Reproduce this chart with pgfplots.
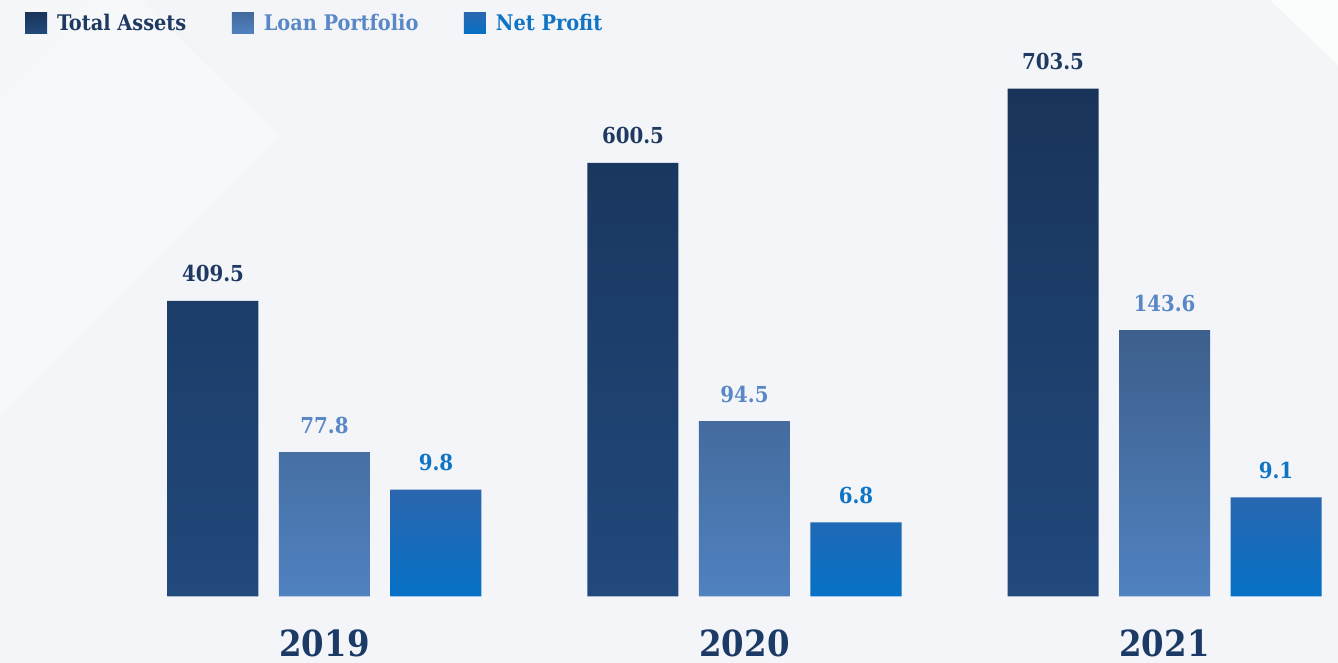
\documentclass[border=0pt]{standalone}
\usepackage{fontspec}
\setmainfont{DejaVu Serif Condensed}
\usepackage{pgfplots}
\pgfplotsset{compat=1.18}
\definecolor{bgcol}{HTML}{F3F5F8}
\definecolor{bglight}{HTML}{F7F8FA}
\definecolor{tatop}{HTML}{19345A}
\definecolor{tabot}{HTML}{21497C}
\definecolor{lptop}{HTML}{3D5F8C}
\definecolor{lpbot}{HTML}{5082C0}
\definecolor{nptop}{HTML}{2B66AE}
\definecolor{npbot}{HTML}{0571C6}
\definecolor{talab}{HTML}{1E3A62}
\definecolor{lplab}{HTML}{5A88C6}
\definecolor{nplab}{HTML}{0F74C4}
\definecolor{yearcol}{HTML}{1B3A66}
\pgfplotsset{
  basebar/.style={
    scale only axis, width=1338pt, height=596.5pt,
    at={(0pt,66.5pt)}, anchor=south west,
    xmin=-0.7726, xmax=2.4131, ymin=0,
    axis line style={draw=none}, tick style={draw=none},
    ytick=\empty, xtick=\empty, clip=false,
    bar width=91pt,
    nodes near coords,
    nodes near coords style={anchor=base, yshift=19pt, font=\fontsize{22}{26}\selectfont\bfseries},
    /pgf/number format/.cd, fixed, fixed zerofill, precision=1, assume math mode=true,
  },
}
\begin{document}
\begin{tikzpicture}
\useasboundingbox (0,0) rectangle (1338pt,663pt);
\fill[bgcol] (0,0) rectangle (1338pt,663pt);
\fill[bglight] (0pt,663pt) -- (140pt,663pt) -- (280pt,526pt) -- (0pt,246pt) -- cycle;
\fill[bgcol!40!bglight] (0pt,663pt) -- (100pt,663pt) -- (0pt,560pt) -- cycle;
\fill[white, opacity=0.7] (1270pt,663pt) -- (1338pt,663pt) -- (1338pt,598pt) -- cycle;
% Total Assets
\begin{axis}[basebar, ymax=826.2,
  xtick={0,1,2}, xticklabels={2019,2020,2021},
  xticklabel style={anchor=base, yshift=-60pt, text=yearcol, font=\fontsize{36}{40}\selectfont\bfseries},
  legend style={draw=none, fill=none, inner sep=0pt, outer sep=0pt,
    at={(axis description cs:0,1)}, anchor=north west, xshift=25pt, yshift=-12pt,
    legend columns=-1, font=\fontsize{21.5}{26}\selectfont\bfseries,
    /tikz/every odd column/.append style={column sep=8pt},
    /tikz/every even column/.append style={column sep=43.5pt}},
  legend image code/.code={\path[#1] (0pt,-10.5pt) rectangle (22pt,10.5pt);},
  legend cell align=left,
]
\addplot[ybar, bar shift=-111.5pt, draw=none, top color=tatop, bottom color=tabot,
  nodes near coords style={text=talab, xshift=-111.5pt}, forget plot]
  coordinates {(0,409.5) (1,600.5) (2,703.5)};
\addlegendimage{draw=none, top color=tatop, bottom color=tabot}
\addlegendentry{\textcolor{talab}{Total Assets}}
\addlegendimage{draw=none, top color=lptop!70!lpbot, bottom color=lpbot}
\addlegendentry{\textcolor{lplab}{Loan Portfolio}}
\addlegendimage{draw=none, top color=nptop, bottom color=npbot}
\addlegendentry{\textcolor{nplab}{Net Profit}}
\end{axis}
% Loan Portfolio
\begin{axis}[basebar, ymax=321.6]
\addplot[ybar, bar shift=0pt, draw=none, top color=lptop, bottom color=lpbot,
  nodes near coords style={text=lplab}]
  coordinates {(0,77.8) (1,94.5) (2,143.6)};
\end{axis}
% Net Profit
\begin{axis}[basebar, ymax=54.7]
\addplot[ybar, bar shift=111.5pt, draw=none, top color=nptop, bottom color=npbot,
  nodes near coords style={text=nplab, xshift=111.5pt}]
  coordinates {(0,9.8) (1,6.8) (2,9.1)};
\end{axis}
\end{tikzpicture}
\end{document}
